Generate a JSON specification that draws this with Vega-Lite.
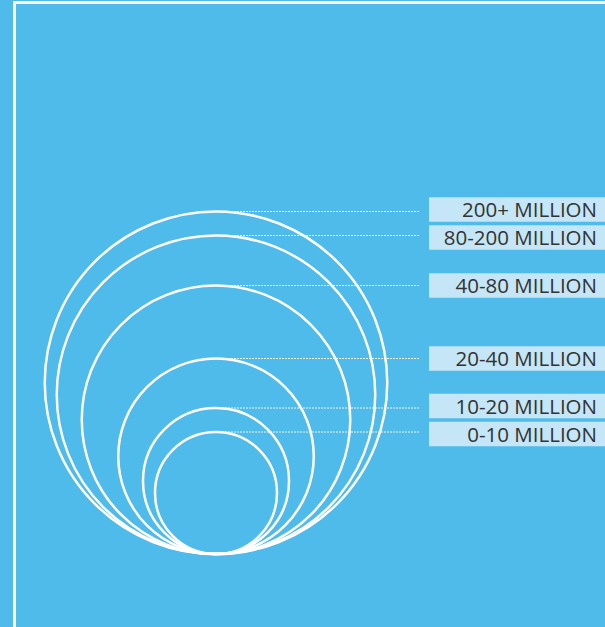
{
  "$schema": "https://vega.github.io/schema/vega-lite/v6.json",
  "width": 605,
  "height": 627,
  "padding": 0,
  "autosize": {"type": "none"},
  "background": "#4FBBEA",
  "config": {"view": {"stroke": null}},
  "data": {
    "values": [
      {"label": "200+ MILLION", "r": 171.25},
      {"label": "80-200 MILLION", "r": 159.25},
      {"label": "40-80 MILLION", "r": 134.25},
      {"label": "20-40 MILLION", "r": 97.75},
      {"label": "10-20 MILLION", "r": 73},
      {"label": "0-10 MILLION", "r": 61}
    ]
  },
  "transform": [
    {"calculate": "2*datum.r", "as": "top"},
    {
      "window": [
        {"op": "lag", "field": "top", "as": "prevTop"},
        {"op": "lead", "field": "top", "as": "nextTop"}
      ],
      "sort": [{"field": "top", "order": "descending"}]
    },
    {"calculate": "datum.top + ((datum.nextTop != null && datum.top - datum.nextTop < 28) ? (28 - (datum.top - datum.nextTop)) / 2 : 0) - ((datum.prevTop != null && datum.prevTop - datum.top < 28) ? (28 - (datum.prevTop - datum.top)) / 2 : 0)", "as": "labelY"},
    {"calculate": "datum.labelY - 12.25", "as": "boxLo"},
    {"calculate": "datum.labelY + 12.25", "as": "boxHi"}
  ],
  "layer": [
    {
      "data": {"values": [{}]},
      "mark": {"type": "rule", "stroke": "white", "strokeWidth": 3},
      "encoding": {
        "x": {"datum": 14.5, "type": "quantitative", "scale": {"domain": [0, 605], "range": [0, 605]}, "axis": null},
        "y": {"datum": -73, "type": "quantitative", "scale": {"domain": [0, 554], "range": [554, 0]}, "axis": null},
        "y2": {"datum": 553}
      }
    },
    {
      "data": {"values": [{}]},
      "mark": {"type": "rule", "stroke": "white", "strokeWidth": 3},
      "encoding": {
        "x": {"datum": 13, "type": "quantitative", "scale": {"domain": [0, 605], "range": [0, 605]}, "axis": null},
        "x2": {"datum": 605},
        "y": {"datum": 551.5, "type": "quantitative", "scale": {"domain": [0, 554], "range": [554, 0]}, "axis": null}
      }
    },
    {
      "mark": {"type": "point", "shape": "circle", "filled": false, "stroke": "white", "strokeWidth": 2.5, "opacity": 1},
      "encoding": {
        "x": {"datum": 216, "type": "quantitative", "scale": {"domain": [0, 605], "range": [0, 605]}, "axis": null},
        "y": {"field": "r", "type": "quantitative", "scale": {"domain": [0, 554], "range": [554, 0]}, "axis": null},
        "size": {"field": "r", "type": "quantitative", "scale": {"type": "pow", "exponent": 2, "domain": [0, 171.25], "range": [0, 117306]}, "legend": null}
      }
    },
    {
      "mark": {"type": "rule", "stroke": "white", "strokeWidth": 1, "strokeDash": [2, 1], "opacity": 0.9},
      "encoding": {
        "x": {"datum": 216, "type": "quantitative", "scale": {"domain": [0, 605], "range": [0, 605]}, "axis": null},
        "x2": {"datum": 420},
        "y": {"field": "top", "type": "quantitative", "scale": {"domain": [0, 554], "range": [554, 0]}, "axis": null}
      }
    },
    {
      "mark": {"type": "rect", "fill": "#C4E6F7"},
      "encoding": {
        "x": {"datum": 429, "type": "quantitative", "scale": {"domain": [0, 605], "range": [0, 605]}, "axis": null},
        "x2": {"datum": 605},
        "y": {"field": "boxLo", "type": "quantitative", "scale": {"domain": [0, 554], "range": [554, 0]}, "axis": null},
        "y2": {"field": "boxHi"}
      }
    },
    {
      "mark": {"type": "text", "align": "right", "baseline": "middle", "font": "Open Sans", "fontSize": 20.5, "color": "#333333", "dy": 1.5},
      "encoding": {
        "x": {"datum": 597, "type": "quantitative", "scale": {"domain": [0, 605], "range": [0, 605]}, "axis": null},
        "y": {"field": "labelY", "type": "quantitative", "scale": {"domain": [0, 554], "range": [554, 0]}, "axis": null},
        "text": {"field": "label"}
      }
    }
  ]
}
